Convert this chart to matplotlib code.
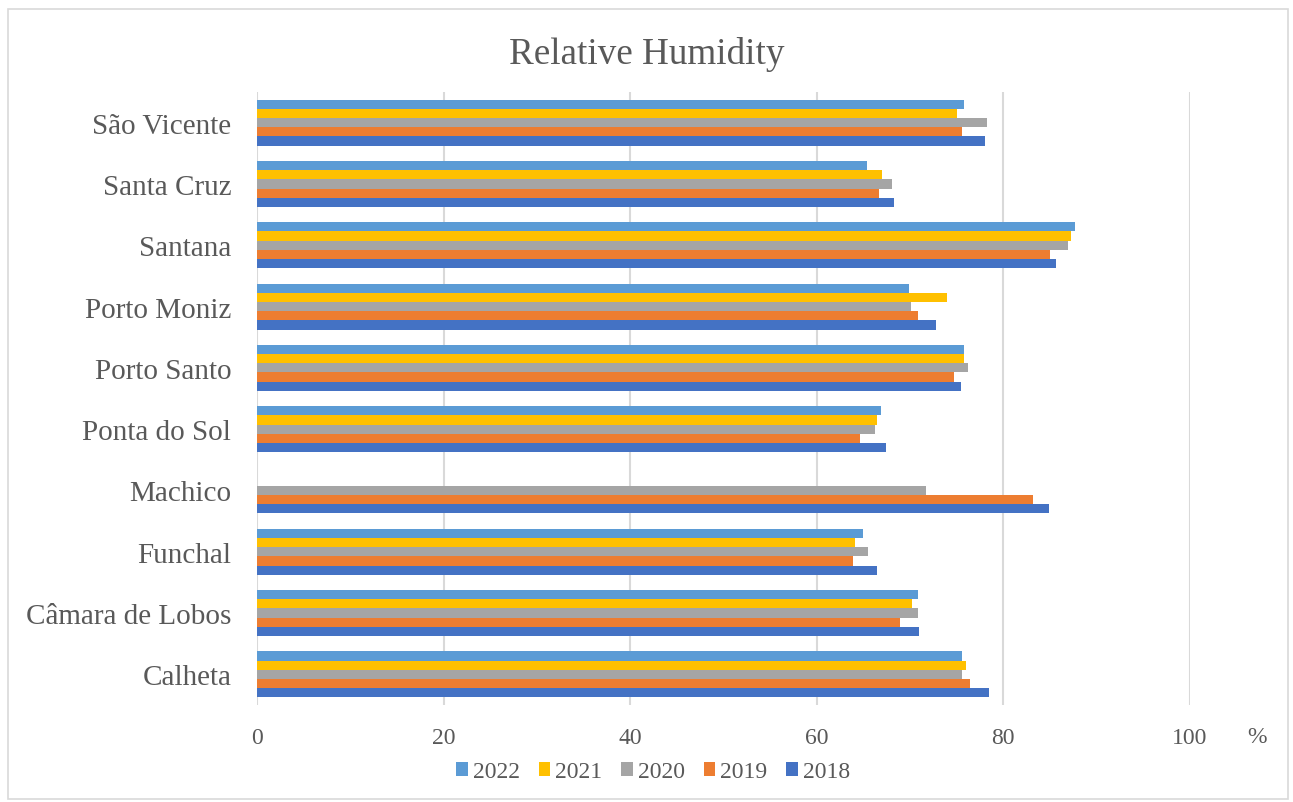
import numpy as np
import matplotlib
matplotlib.use("Agg")
import matplotlib.pyplot as plt
from matplotlib.patches import Rectangle, Patch

plt.rcParams["font.family"] = ["Liberation Serif", "DejaVu Serif"]

# Stations listed bottom to top
stations = ["Calheta", "Câmara de Lobos", "Funchal", "Machico", "Ponta do Sol",
            "Porto Santo", "Porto Moniz", "Santana", "Santa Cruz", "São Vicente"]
years = ["2022", "2021", "2020", "2019", "2018"]

# mean relative humidity (%), one list per year, same order as stations
rh_2022 = [75.6, 70.9, 64.9, np.nan, 66.9, 75.8, 69.9, 87.7, 65.4, 75.8]
rh_2021 = [76.0, 70.2, 64.1, np.nan, 66.5, 75.8, 74.0, 87.3, 67.0, 75.0]
rh_2020 = [75.6, 70.8, 65.5, 71.7, 66.2, 76.2, 70.1, 86.9, 68.1, 78.2]
rh_2019 = [76.4, 68.9, 63.9, 83.2, 64.6, 74.7, 70.9, 85.0, 66.7, 75.6]
rh_2018 = [78.5, 71.0, 66.5, 84.9, 67.4, 75.5, 72.8, 85.6, 68.3, 78.0]

series = [rh_2022, rh_2021, rh_2020, rh_2019, rh_2018]
colors = ["#5B9BD5", "#FFC000", "#A5A5A5", "#ED7D31", "#4472C4"]
txt = "#595959"

fig = plt.figure(figsize=(12.93, 8.03), dpi=100)
ax = fig.add_axes([0.1988, 0.1208, 0.7215, 0.7634])

y = np.arange(len(stations))
h = 0.15
# 2022 sits at the top of each group, 2018 at the bottom
offsets = [2 * h, h, 0, -h, -2 * h]
for vals, off, col, yr in zip(series, offsets, colors, years):
    ax.barh(y + off, vals, height=h, color=col, label=yr, zorder=3)

ax.set_xlim(0, 100)
ax.set_ylim(-0.5, len(stations) - 0.5)
ax.set_yticks(y)
ax.set_yticklabels(stations, fontsize=21, color=txt)
ax.set_xticks(np.arange(0, 101, 20))
ax.tick_params(axis="x", labelsize=17, colors=txt, length=0, pad=16)
ax.tick_params(axis="y", length=0, pad=18.5)
ax.grid(axis="x", color="#D9D9D9", lw=1.5, zorder=0)
for s in ax.spines.values():
    s.set_visible(False)

fig.text(0.5, 0.932, "Relative Humidity", ha="center", va="center",
         fontsize=26.7, color=txt)
fig.text(0.972, 0.082, "%", ha="center", va="center", fontsize=17, color=txt)

handles = [Patch(facecolor=c, label=yr) for c, yr in zip(colors, years)]
fig.legend(handles=handles, loc="center", bbox_to_anchor=(0.505, 0.0374), ncol=5,
           frameon=False, fontsize=17, handlelength=0.5, handleheight=0.5,
           handletextpad=0.2, columnspacing=0.8, labelcolor=txt)

fig.patches.append(Rectangle((8 / 1293, 3 / 803), 1280 / 1293, 790 / 803,
                             transform=fig.transFigure, fill=False,
                             edgecolor="#D9D9D9", lw=1.2))

fig.savefig("out.png", dpi=100)
